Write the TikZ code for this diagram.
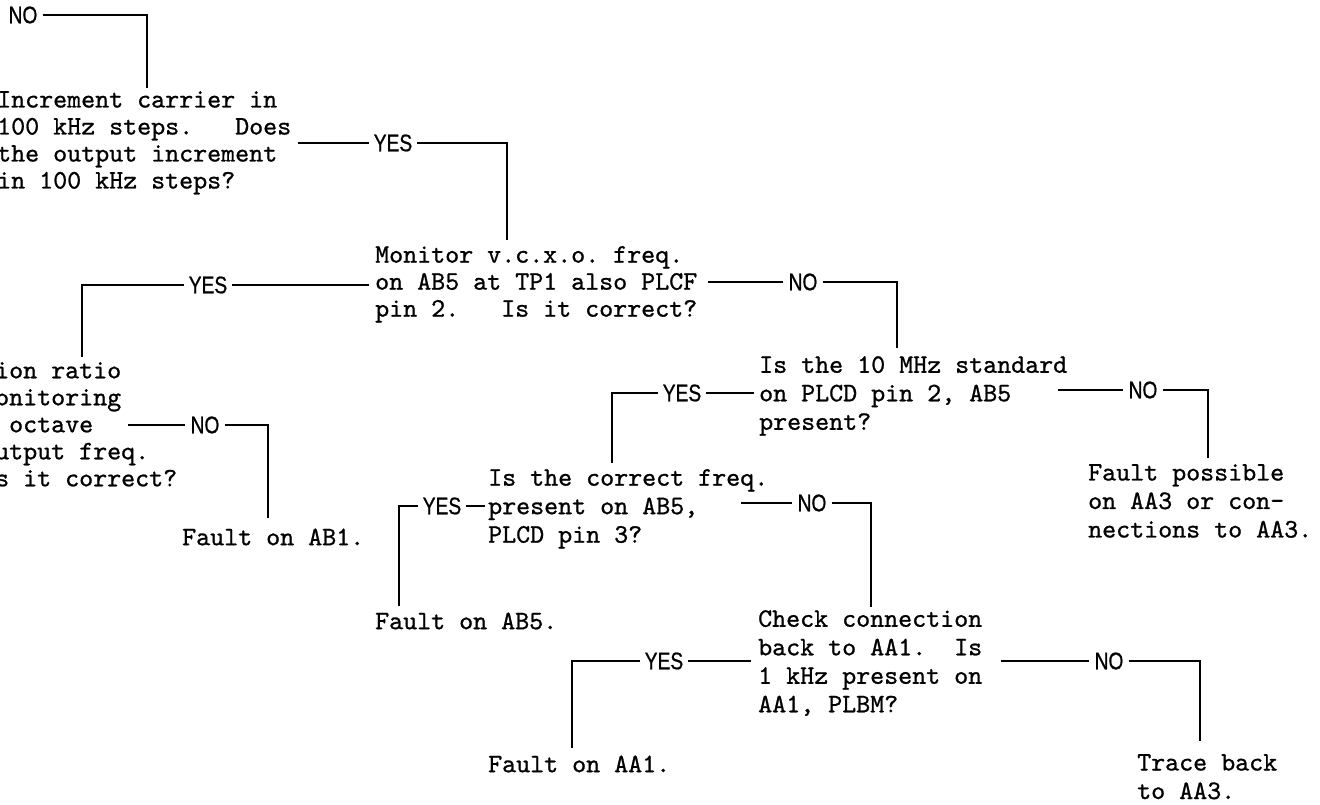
\documentclass[tikz,border=0pt]{standalone}
\usepackage{fontspec}
\usepackage{tikz}
\newfontfamily\typew{lmmono10-regular}[Extension=.otf,FakeBold=0.9]
\newfontfamily\labfont[FakeStretch=0.8,FakeBold=0.8]{Liberation Sans}
\frenchspacing

\begin{document}
\begin{tikzpicture}[x=1pt,y=-1pt,font=\fontsize{26.67}{27}\selectfont\typew]
  \tikzset{txt/.style={anchor=north west,inner sep=0pt,align=left,execute at begin node={\rule{0pt}{18pt}}},
    wide/.style={font=\fontsize{26.67}{28.5}\selectfont\typew},
    lab/.style={font=\fontsize{24}{24}\selectfont\labfont,inner xsep=5pt,inner ysep=0pt},
    wire/.style={line width=2.2pt}}
  \clip (0,0) rectangle (1320,805);
  \node[txt] (incr) at (-3,91) {Increment carrier in\\100 kHz steps.~~~Does\\the output increment\\in 100 kHz steps?};
  \node[txt] (vcxo) at (375,246) {Monitor v.c.x.o. freq.\\on AB5 at TP1 also PLCF\\pin 2.~~~Is it correct?};
  \node[txt] (ratio) at (-5,362) {ion ratio\\onitoring\\\phantom{o}octave\\utput freq.\\s it correct?};
  \node[txt,wide] (std) at (759,356) {Is the 10 MHz standard\\on PLCD pin 2, AB5\\present?};
  \node[txt,wide] (poss) at (1088,464) {Fault possible\\on AA3 or con-\\nections to AA3.};
  \node[txt,wide] (corr) at (488,469) {Is the correct freq.\\present on AB5,\\PLCD pin 3?};
  \node[txt] (ab1) at (182,527) {Fault on AB1.};
  \node[txt] (ab5) at (375,611) {Fault on AB5.};
  \node[txt,wide] (chk) at (758,610) {Check connection\\back to AA1.~~Is\\1 kHz present on\\AA1, PLBM?};
  \node[txt] (aa1) at (488,754) {Fault on AA1.};
  \node[txt,wide] (trace) at (1137,754) {Trace back\\to AA3.};
  % branch labels
  \node[lab] (topno) at (23,15) {NO};
  \node[lab] (yesA) at (393,143) {YES};
  \node[lab] (yesB) at (208,285) {YES};
  \node[lab] (noB) at (803,282) {NO};
  \node[lab] (noC) at (205,425) {NO};
  \node[lab] (yesD) at (682,393) {YES};
  \node[lab] (noD) at (1143,390) {NO};
  \node[lab] (yesF) at (442,506) {YES};
  \node[lab] (noF) at (812,503) {NO};
  \node[lab] (yesG) at (664,661) {YES};
  \node[lab] (noG) at (1109,661) {NO};
  % drop points above each answer
  \coordinate (a0) at (147,88);
  \coordinate (b0) at (507,240);
  \coordinate (c0) at (82,357);
  \coordinate (d0) at (897,348);
  \coordinate (e0) at (268,518);
  \coordinate (f0) at (612,463);
  \coordinate (g0) at (1208,458);
  \coordinate (h0) at (399,606);
  \coordinate (i0) at (871,607);
  \coordinate (j0) at (572,748);
  \coordinate (k0) at (1200,741);
  \draw[wire] (topno) -| (a0);
  \draw[wire] ([xshift=7pt]incr.east |- yesA) -- (yesA) -| (b0);
  \draw[wire] ([xshift=-6pt]vcxo.west |- yesB) -- (yesB) -| (c0);
  \draw[wire] ([xshift=11pt]vcxo.east |- noB) -- (noB) -| (d0);
  \draw[wire] ([xshift=133pt]ratio.west |- noC) -- (noC) -| (e0);
  \draw[wire] ([xshift=-5pt]std.west |- yesD) -- (yesD) -| (f0);
  \draw[wire] ([xshift=-9pt]std.east |- noD) -- (noD) -| (g0);
  \draw[wire] ([xshift=-3pt]corr.west |- yesF) -- (yesF) -| (h0);
  \draw[wire] ([xshift=-27pt]corr.east |- noF) -- (noF) -| (i0);
  \draw[wire] ([xshift=-7pt]chk.west |- yesG) -- (yesG) -| (j0);
  \draw[wire] ([xshift=19pt]chk.east |- noG) -- (noG) -| (k0);
\end{tikzpicture}
\end{document}
